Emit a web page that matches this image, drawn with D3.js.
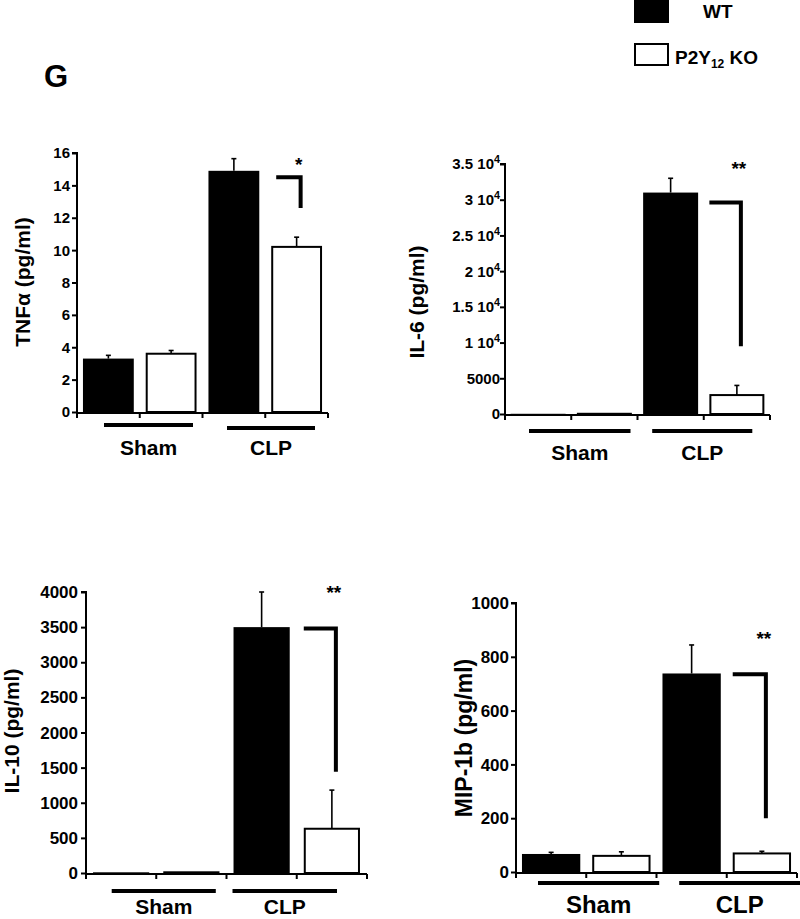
<!DOCTYPE html>
<html><head><meta charset="utf-8">
<script src="https://cdn.jsdelivr.net/npm/d3@7"></script>
<style>
body{margin:0;background:#fff}
svg{display:block;font-family:"Liberation Sans",Arial,Helvetica,sans-serif;font-weight:bold}
</style>
</head><body>
<svg id="chart" width="800" height="919"></svg>
<script>
// ---------- data ----------
const groups = ["Sham", "CLP"];
const seriesNames = ["WT", "P2Y12 KO"];
const barKeys = ["Sham-WT", "Sham-KO", "CLP-WT", "CLP-KO"];

const tnfMean = [3.3, 3.6, 14.9, 10.2];
const tnfErr  = [0.2, 0.2, 0.75, 0.6];
const tnfTicks = [0, 2, 4, 6, 8, 10, 12, 14, 16];
const tnfTickLabels = ["0", "2", "4", "6", "8", "10", "12", "14", "16"];

const il6Mean = [30, 30, 31000, 2650];
const il6Err  = [0, 0, 2000, 1350];
const il6Ticks = [0, 5000, 10000, 15000, 20000, 25000, 30000, 35000];
const il6TickLabels = ["0", "5000", "1 10^4", "1.5 10^4", "2 10^4", "2.5 10^4", "3 10^4", "3.5 10^4"];

const il10Mean = [10, 10, 3500, 630];
const il10Err  = [0, 0, 500, 550];
const il10Ticks = [0, 500, 1000, 1500, 2000, 2500, 3000, 3500, 4000];
const il10TickLabels = ["0", "500", "1000", "1500", "2000", "2500", "3000", "3500", "4000"];

const mipMean = [67, 60, 738, 69];
const mipErr  = [6, 15, 106, 8];
const mipTicks = [0, 200, 400, 600, 800, 1000];
const mipTickLabels = ["0", "200", "400", "600", "800", "1000"];

const titles = ["TNFα (pg/ml)", "IL-6 (pg/ml)", "IL-10 (pg/ml)", "MIP-1b (pg/ml)"];
const sigLabels = ["*", "**", "**", "**"];
const bracketTop = [14.5, 29600, 3480, 735];
const bracketBottom = [12.6, 9500, 1440, 200];
const starLevel = [15.0, 33800, 3930, 851];

// ---------- layout (pixels) ----------
const layouts = [
  {mean: tnfMean, err: tnfErr, ticks: tnfTicks, labels: tnfTickLabels,
   x0: 77, x1: 328, yZero: 412, yTop: 153, pad: 0.19, tickFont: 15, gap: 7,
   titleX: 30, titleY: 282, titleFont: 21,
   lineY: [13, 16], lineOff: [[27, -9.5], [24.5, -13]], labelDy: 43, labelFont: 21},
  {mean: il6Mean, err: il6Err, ticks: il6Ticks, labels: il6TickLabels,
   x0: 505, x1: 770, yZero: 414, yTop: 164, pad: 0.17, tickFont: 15, gap: 5,
   titleX: 424, titleY: 302, titleFont: 21,
   lineY: [17, 17], lineOff: [[24, -7], [14.7, -17.7]], labelDy: 46, labelFont: 21},
  {mean: il10Mean, err: il10Err, ticks: il10Ticks, labels: il10TickLabels,
   x0: 86, x1: 367, yZero: 873, yTop: 592, pad: 0.2, tickFont: 17, gap: 8,
   titleX: 19, titleY: 731, titleFont: 21,
   lineY: [18, 18], lineOff: [[25.7, -10.7], [6, -30]], labelDy: 41, labelFont: 21},
  {mean: mipMean, err: mipErr, ticks: mipTicks, labels: mipTickLabels,
   x0: 516, x1: 797, yZero: 872, yTop: 603, pad: 0.17, tickFont: 17, gap: 7,
   titleX: 472, titleY: 738, titleFont: 23,
   lineY: [11, 11], lineOff: [[22, 2.7], [22.7, 3.3]], labelDy: 41, labelFont: 24}
];

const svg = d3.select("#chart");

// panel letter
svg.append("text").attr("x", 44).attr("y", 87).attr("font-size", 31).text("G");

// legend
const leg = svg.append("g");
leg.append("rect").attr("x", 634).attr("y", -3).attr("width", 35).attr("height", 26).attr("fill", "#000");
leg.append("rect").attr("x", 635).attr("y", 44).attr("width", 33).attr("height", 21)
  .attr("fill", "#fff").attr("stroke", "#000").attr("stroke-width", 2);
leg.append("text").attr("x", 703).attr("y", 18).attr("font-size", 19).text(seriesNames[0]);
const kt = leg.append("text").attr("x", 675).attr("y", 64).attr("font-size", 19);
kt.append("tspan").text("P2Y");
kt.append("tspan").attr("font-size", 12).attr("dy", 4).text("12");
kt.append("tspan").attr("dy", -4).text(" KO");

layouts.forEach((L, pi) => {
  const g = svg.append("g");
  const max = L.ticks[L.ticks.length - 1];
  const y = d3.scaleLinear().domain([0, max]).range([L.yZero, L.yTop]);
  const x = d3.scaleBand().domain(barKeys).range([L.x0, L.x1])
    .paddingInner(L.pad).paddingOuter(L.pad / 2);
  const step = x.step();

  // bars
  const data = barKeys.map((k, i) => ({k, i, m: L.mean[i], e: L.err[i]}));
  g.selectAll(".bar").data(data).enter().append("rect")
    .attr("x", d => x(d.k) + (d.i % 2 ? 1 : 0))
    .attr("y", d => y(d.m))
    .attr("width", d => x.bandwidth() - (d.i % 2 ? 2 : 0))
    .attr("height", d => Math.max(0.5, L.yZero - y(d.m)))
    .attr("fill", d => d.i % 2 ? "#fff" : "#000")
    .attr("stroke", d => d.i % 2 ? "#000" : "none")
    .attr("stroke-width", 2);

  // error bars
  const eb = data.filter(d => d.e > 0);
  g.selectAll(".ev").data(eb).enter().append("line")
    .attr("x1", d => x(d.k) + x.bandwidth() / 2).attr("x2", d => x(d.k) + x.bandwidth() / 2)
    .attr("y1", d => y(d.m)).attr("y2", d => y(d.m + d.e))
    .attr("stroke", "#000").attr("stroke-width", 1.6);
  g.selectAll(".ec").data(eb).enter().append("line")
    .attr("x1", d => x(d.k) + x.bandwidth() / 2 - 2.5).attr("x2", d => x(d.k) + x.bandwidth() / 2 + 2.5)
    .attr("y1", d => y(d.m + d.e)).attr("y2", d => y(d.m + d.e))
    .attr("stroke", "#000").attr("stroke-width", 1.6);

  // y axis
  const yAxis = d3.axisLeft(y).tickValues(L.ticks).tickSize(5).tickFormat(() => "");
  const ya = g.append("g").attr("transform", `translate(${L.x0},0)`).call(yAxis);
  ya.select(".domain").attr("stroke-width", 2).attr("d", `M-5,${L.yTop}H0V${L.yZero + 1}`);
  ya.selectAll(".tick line").attr("stroke-width", 2);
  // tick labels
  g.selectAll(".tl").data(L.ticks).enter().append("text")
    .attr("x", L.x0 - L.gap)
    .attr("y", d => y(d)).attr("dy", "0.36em")
    .attr("text-anchor", "end").attr("font-size", L.tickFont)
    .each(function(d, i) {
      const s = L.labels[i];
      const t = d3.select(this);
      if (s.includes("^")) {
        const [base, ex] = s.split("^");
        t.append("tspan").text(base);
        t.append("tspan").attr("dy", "-0.55em").attr("font-size", L.tickFont * 0.72).text(ex);
      } else t.text(s);
    });

  // x axis
  const xa = g.append("g");
  xa.append("line").attr("x1", L.x0 - 1).attr("x2", L.x1).attr("y1", L.yZero + 1).attr("y2", L.yZero + 1)
    .attr("stroke", "#000").attr("stroke-width", 2);
  const bounds = d3.range(5).map(i => x.range()[0] + i * step);
  xa.selectAll(".xt").data(bounds).enter().append("line")
    .attr("x1", d => d).attr("x2", d => d)
    .attr("y1", L.yZero + 1).attr("y2", L.yZero + 6)
    .attr("stroke", "#000").attr("stroke-width", 2);

  // group lines and labels
  groups.forEach((gr, gi) => {
    const gs = bounds[gi * 2], ge = bounds[gi * 2 + 2];
    const lx1 = gs + L.lineOff[gi][0], lx2 = ge + L.lineOff[gi][1];
    g.append("line").attr("x1", lx1).attr("x2", lx2)
      .attr("y1", L.yZero + L.lineY[gi]).attr("y2", L.yZero + L.lineY[gi])
      .attr("stroke", "#000").attr("stroke-width", 4);
    g.append("text").attr("x", (lx1 + lx2) / 2).attr("y", L.yZero + L.labelDy)
      .attr("text-anchor", "middle").attr("font-size", L.labelFont).text(gr);
  });

  // y title
  g.append("text").attr("transform", `translate(${L.titleX},${L.titleY}) rotate(-90)`)
    .attr("text-anchor", "middle").attr("font-size", L.titleFont).text(titles[pi]);

  // significance bracket
  const ko = barKeys[3];
  const bx1 = x(ko) + (pi === 0 ? 5 : 0);
  const bx2 = x(ko) + x.bandwidth() / 2 + 4;
  g.append("path")
    .attr("d", `M${bx1},${y(bracketTop[pi])}H${bx2}V${y(bracketBottom[pi])}`)
    .attr("fill", "none").attr("stroke", "#000").attr("stroke-width", 4)
    .attr("stroke-linejoin", "miter");
  g.append("text").attr("x", bx2 - 2).attr("y", y(starLevel[pi]) + 2)
    .attr("text-anchor", "middle").attr("font-size", 19).text(sigLabels[pi]);
});
</script>
</body></html>
